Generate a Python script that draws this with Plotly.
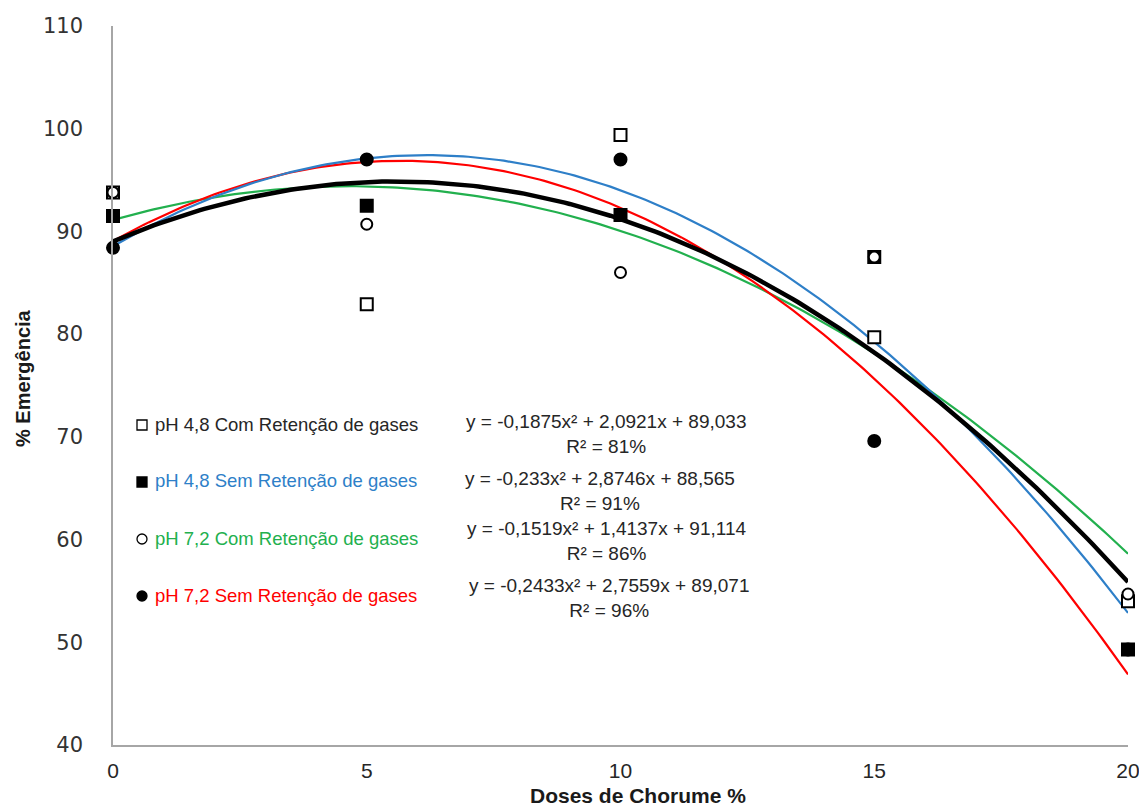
import numpy as np
import plotly.graph_objects as go

doses = [0, 5, 10, 15, 20]
series_names = ["pH 4,8 Com Retenção de gases", "pH 4,8 Sem Retenção de gases",
                "pH 7,2 Com Retenção de gases", "pH 7,2 Sem Retenção de gases"]
com_48 = [93.8, 82.9, 99.4, 79.7, 54.0]
sem_48 = [91.5, 92.5, 91.6, 87.5, 49.3]
com_72 = [93.8, 90.7, 86.0, 87.5, 54.7]
sem_72 = [88.4, 97.0, 97.0, 69.6, 49.3]

# trendline coefficients (a, b, c) for y = a x^2 + b x + c, as printed on the chart
coef_com_48 = [-0.1875, 2.0921, 89.033]
coef_sem_48 = [-0.233, 2.8746, 88.565]
coef_com_72 = [-0.1519, 1.4137, 91.114]
coef_sem_72 = [-0.2433, 2.7559, 89.071]
equations = ["y = -0,1875x² + 2,0921x + 89,033<br>R² = 81%",
             "y = -0,233x² + 2,8746x + 88,565<br>R² = 91%",
             "y = -0,1519x² + 1,4137x + 91,114<br>R² = 86%",
             "y = -0,2433x² + 2,7559x + 89,071<br>R² = 96%"]
x_title = "Doses de Chorume %"
y_title = "% Emergência"
y_ticks = [40, 50, 60, 70, 80, 90, 100, 110]

values = [com_48, sem_48, com_72, sem_72]
coefs = [coef_com_48, coef_sem_48, coef_com_72, coef_sem_72]
line_colors = ["#000000", "#2E7FC8", "#22B04E", "#FF0000"]
line_widths = [4.5, 2.2, 2.2, 2.2]
text_colors = ["#262626", "#2E7FC8", "#22B04E", "#FF0000"]
symbols = ["square", "square", "circle", "circle"]
fills = ["white", "black", "white", "black"]
msizes = [12, 12, 11, 12]

fig = go.Figure()
xs = np.linspace(0, 20, 201)
for i in [2, 3, 1, 0]:
    fig.add_trace(go.Scatter(x=xs, y=np.polyval(coefs[i], xs), mode="lines",
                             line=dict(color=line_colors[i], width=line_widths[i]),
                             showlegend=False, hoverinfo="skip"))
for i in range(4):
    fig.add_trace(go.Scatter(x=doses, y=values[i], mode="markers", name=series_names[i],
                             marker=dict(symbol=symbols[i], size=msizes[i], color=fills[i],
                                         line=dict(color="black", width=2)),
                             cliponaxis=False, showlegend=False))

OFF = 8  # page body margin
W, H = 1139, 801
L, T = 113 - OFF, 26 - OFF
R = W - (1128 - OFF)
B = H - (745 - OFF)
pw, ph = W - L - R, H - T - B

def px(x):
    return (x - OFF - L) / pw

def py(y):
    return (H - B - (y - OFF)) / ph

legend_rows = [424, 481, 538, 595]
eq_centers = [(606, 434), (600, 491), (606, 541), (609, 598)]
for i in range(4):
    fig.add_annotation(x=px(153), y=py(legend_rows[i]), xref="paper", yref="paper",
                       text=series_names[i], showarrow=False, xanchor="left", yanchor="middle",
                       font=dict(family="Liberation Sans", size=18.5, color=text_colors[i]))
    fig.add_shape(type="rect" if symbols[i] == "square" else "circle",
                  xref="paper", yref="paper", xsizemode="pixel", ysizemode="pixel",
                  xanchor=px(142), yanchor=py(legend_rows[i] + 1),
                  x0=-5, x1=5, y0=-5, y1=5,
                  fillcolor=fills[i], line=dict(color="black", width=1.3))
    fig.add_annotation(x=px(eq_centers[i][0]), y=py(eq_centers[i][1]), xref="paper", yref="paper",
                       text=equations[i], showarrow=False, xanchor="center", yanchor="middle",
                       align="center",
                       font=dict(family="Liberation Sans", size=19, color="#262626"))

fig.add_annotation(x=px(638), y=py(795), xref="paper", yref="paper", text="<b>" + x_title + "</b>",
                   showarrow=False, xanchor="center", yanchor="middle",
                   font=dict(family="Liberation Sans", size=21, color="#1a1a1a"))
fig.add_annotation(x=px(23), y=py(378), xref="paper", yref="paper", text="<b>" + y_title + "</b>",
                   showarrow=False, xanchor="center", yanchor="middle", textangle=-90,
                   font=dict(family="Liberation Sans", size=20, color="#1a1a1a"))

fig.update_layout(
    width=W, height=H, margin=dict(l=L, r=R, t=T, b=B, pad=0, autoexpand=False),
    plot_bgcolor="white", paper_bgcolor="white",
    xaxis=dict(range=[0, 20], tickvals=doses, showgrid=False, zeroline=False, automargin=False,
               showline=True, linecolor="#A6A6A6", linewidth=1.5, ticks="",
               ticklabelstandoff=6,
               tickfont=dict(family="Liberation Sans", size=21, color="#262626")),
    yaxis=dict(range=[40, 110], tickvals=y_ticks, showgrid=False, automargin=False,
               zeroline=False, showline=True, linecolor="#A6A6A6", linewidth=1.5, ticks="",
               ticklabelstandoff=24,
               tickfont=dict(family="DejaVu Sans", size=21, color="#333333")),
)

fig.write_html("out.html")
